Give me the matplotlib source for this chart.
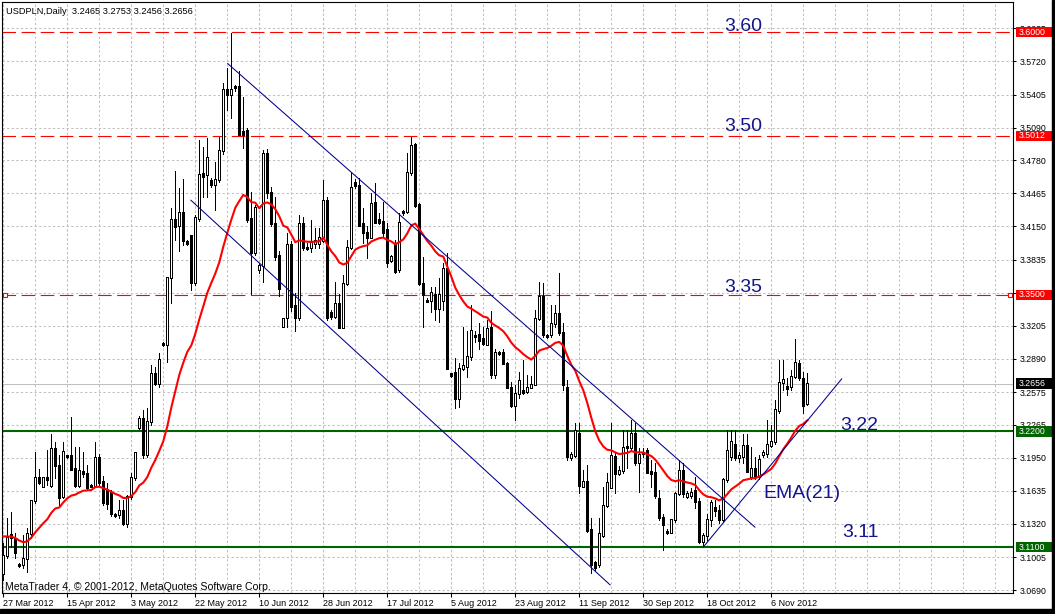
import numpy as np
import pandas as pd
import matplotlib
matplotlib.use('Agg')
import matplotlib.pyplot as plt
import matplotlib.transforms as mtrans
from matplotlib.patches import Rectangle

plt.rcParams['font.family'] = ['Liberation Sans', 'DejaVu Sans']

# USDPLN daily candles (one bar per trading day, Sun-Fri)
opens = [3.085, 3.102, 3.122, 3.118, 3.093, 3.093, 3.099, 3.123, 3.154, 3.176,
         3.168, 3.176, 3.169, 3.204, 3.188, 3.158, 3.197, 3.197, 3.185, 3.169,
         3.182, 3.180, 3.169, 3.169, 3.195, 3.172, 3.164, 3.162, 3.141, 3.141,
         3.145, 3.132, 3.158, 3.176, 3.224, 3.232, 3.198, 3.229, 3.275, 3.266,
         3.303, 3.303, 3.366, 3.422, 3.416, 3.428, 3.401, 3.406, 3.362, 3.423,
         3.465, 3.464, 3.459, 3.455, 3.460, 3.487, 3.545, 3.541, 3.547, 3.548,
         3.505, 3.506, 3.423, 3.390, 3.374, 3.378, 3.484, 3.447, 3.418, 3.387,
         3.320, 3.328, 3.398, 3.340, 3.328, 3.418, 3.395, 3.395, 3.399, 3.399,
         3.402, 3.440, 3.333, 3.329, 3.342, 3.319, 3.361, 3.395, 3.457, 3.454,
         3.418, 3.409, 3.405, 3.438, 3.422, 3.420, 3.412, 3.383, 3.399, 3.374,
         3.428, 3.429, 3.466, 3.493, 3.436, 3.361, 3.345, 3.345, 3.350, 3.337,
         3.345, 3.375, 3.275, 3.276, 3.251, 3.280, 3.282, 3.291, 3.311, 3.312,
         3.308, 3.303, 3.319, 3.274, 3.295, 3.295, 3.285, 3.262, 3.245, 3.256,
         3.259, 3.258, 3.262, 3.265, 3.327, 3.348, 3.311, 3.312, 3.323, 3.332,
         3.314, 3.262, 3.195, 3.197, 3.218, 3.168, 3.172, 3.127, 3.095, 3.093,
         3.121, 3.150, 3.167, 3.196, 3.180, 3.183, 3.206, 3.205, 3.218, 3.190,
         3.200, 3.202, 3.182, 3.181, 3.156, 3.138, 3.125, 3.124, 3.136, 3.161,
         3.183, 3.158, 3.159, 3.164, 3.153, 3.115, 3.121, 3.136, 3.148, 3.145,
         3.136, 3.174, 3.196, 3.208, 3.195, 3.196, 3.207, 3.177, 3.185, 3.177,
         3.198, 3.199, 3.207, 3.210, 3.240, 3.267, 3.263, 3.263, 3.272, 3.285,
         3.270, 3.2465]
highs = [3.114, 3.138, 3.143, 3.123, 3.095, 3.121, 3.128, 3.155, 3.200, 3.184,
         3.177, 3.202, 3.218, 3.210, 3.198, 3.210, 3.198, 3.234, 3.205, 3.205,
         3.200, 3.188, 3.170, 3.210, 3.199, 3.178, 3.171, 3.164, 3.142, 3.155,
         3.155, 3.160, 3.180, 3.200, 3.235, 3.240, 3.242, 3.283, 3.281, 3.295,
         3.305, 3.367, 3.433, 3.468, 3.452, 3.460, 3.402, 3.407, 3.426, 3.497,
         3.491, 3.499, 3.461, 3.476, 3.500, 3.552, 3.566, 3.599, 3.550, 3.563,
         3.538, 3.509, 3.448, 3.435, 3.380, 3.488, 3.489, 3.453, 3.443, 3.392,
         3.328, 3.409, 3.401, 3.352, 3.426, 3.424, 3.399, 3.421, 3.414, 3.414,
         3.459, 3.443, 3.336, 3.362, 3.351, 3.369, 3.402, 3.466, 3.460, 3.461,
         3.433, 3.415, 3.447, 3.456, 3.428, 3.438, 3.418, 3.388, 3.402, 3.428,
         3.431, 3.485, 3.500, 3.494, 3.437, 3.386, 3.347, 3.357, 3.357, 3.366,
         3.380, 3.390, 3.276, 3.290, 3.285, 3.319, 3.316, 3.340, 3.316, 3.323,
         3.319, 3.326, 3.335, 3.298, 3.297, 3.298, 3.286, 3.267, 3.264, 3.277,
         3.288, 3.274, 3.273, 3.336, 3.362, 3.361, 3.313, 3.340, 3.340, 3.371,
         3.323, 3.269, 3.200, 3.228, 3.228, 3.183, 3.188, 3.138, 3.097, 3.138,
         3.167, 3.180, 3.228, 3.200, 3.187, 3.221, 3.221, 3.231, 3.228, 3.204,
         3.204, 3.204, 3.193, 3.190, 3.164, 3.141, 3.127, 3.137, 3.162, 3.193,
         3.190, 3.163, 3.166, 3.177, 3.157, 3.123, 3.141, 3.155, 3.155, 3.150,
         3.176, 3.221, 3.221, 3.221, 3.200, 3.218, 3.218, 3.205, 3.196, 3.198,
         3.202, 3.231, 3.226, 3.250, 3.288, 3.288, 3.271, 3.278, 3.308, 3.288,
         3.277, 3.2753]
lows = [3.079, 3.100, 3.110, 3.100, 3.091, 3.090, 3.086, 3.119, 3.152, 3.170,
        3.168, 3.169, 3.167, 3.176, 3.148, 3.157, 3.195, 3.183, 3.167, 3.167,
        3.177, 3.164, 3.167, 3.167, 3.169, 3.150, 3.146, 3.140, 3.139, 3.138,
        3.131, 3.129, 3.156, 3.174, 3.222, 3.195, 3.196, 3.226, 3.264, 3.262,
        3.301, 3.286, 3.342, 3.402, 3.392, 3.397, 3.397, 3.355, 3.359, 3.420,
        3.443, 3.443, 3.453, 3.431, 3.457, 3.484, 3.526, 3.518, 3.544, 3.502,
        3.490, 3.419, 3.351, 3.388, 3.371, 3.362, 3.442, 3.415, 3.383, 3.349,
        3.319, 3.319, 3.335, 3.316, 3.326, 3.393, 3.393, 3.391, 3.395, 3.395,
        3.400, 3.326, 3.327, 3.328, 3.318, 3.318, 3.359, 3.394, 3.452, 3.415,
        3.399, 3.385, 3.404, 3.418, 3.417, 3.405, 3.376, 3.381, 3.371, 3.372,
        3.426, 3.428, 3.464, 3.434, 3.359, 3.319, 3.343, 3.334, 3.326, 3.324,
        3.336, 3.279, 3.272, 3.242, 3.243, 3.278, 3.272, 3.288, 3.305, 3.298,
        3.302, 3.302, 3.271, 3.271, 3.293, 3.284, 3.261, 3.243, 3.231, 3.252,
        3.256, 3.257, 3.261, 3.264, 3.326, 3.310, 3.309, 3.310, 3.319, 3.312,
        3.259, 3.193, 3.193, 3.196, 3.161, 3.167, 3.124, 3.085, 3.088, 3.091,
        3.120, 3.148, 3.166, 3.161, 3.179, 3.180, 3.185, 3.202, 3.188, 3.162,
        3.196, 3.180, 3.167, 3.157, 3.136, 3.107, 3.122, 3.123, 3.134, 3.160,
        3.158, 3.157, 3.157, 3.147, 3.114, 3.111, 3.117, 3.130, 3.140, 3.133,
        3.134, 3.172, 3.193, 3.193, 3.191, 3.190, 3.181, 3.175, 3.175, 3.175,
        3.196, 3.196, 3.205, 3.208, 3.238, 3.259, 3.255, 3.259, 3.271, 3.269,
        3.238, 3.2456]
closes = [3.102, 3.119, 3.119, 3.105, 3.092, 3.099, 3.123, 3.154, 3.176, 3.171,
          3.176, 3.174, 3.204, 3.188, 3.157, 3.201, 3.196, 3.184, 3.169, 3.183,
          3.180, 3.167, 3.168, 3.195, 3.171, 3.152, 3.151, 3.142, 3.140, 3.145,
          3.132, 3.158, 3.176, 3.200, 3.232, 3.198, 3.229, 3.275, 3.266, 3.288,
          3.303, 3.366, 3.422, 3.415, 3.428, 3.402, 3.399, 3.362, 3.424, 3.464,
          3.463, 3.481, 3.455, 3.460, 3.487, 3.545, 3.541, 3.545, 3.548, 3.503,
          3.503, 3.422, 3.390, 3.433, 3.378, 3.484, 3.447, 3.418, 3.386, 3.356,
          3.327, 3.398, 3.339, 3.328, 3.418, 3.395, 3.394, 3.400, 3.402, 3.405,
          3.440, 3.328, 3.329, 3.342, 3.319, 3.361, 3.395, 3.452, 3.454, 3.416,
          3.409, 3.405, 3.437, 3.419, 3.419, 3.409, 3.381, 3.386, 3.372, 3.419,
          3.429, 3.466, 3.492, 3.435, 3.361, 3.350, 3.344, 3.352, 3.337, 3.350,
          3.375, 3.280, 3.273, 3.251, 3.280, 3.283, 3.291, 3.316, 3.310, 3.307,
          3.304, 3.318, 3.274, 3.295, 3.294, 3.285, 3.262, 3.245, 3.256, 3.268,
          3.257, 3.262, 3.265, 3.327, 3.348, 3.312, 3.310, 3.323, 3.332, 3.314,
          3.265, 3.196, 3.198, 3.221, 3.169, 3.172, 3.126, 3.093, 3.091, 3.123,
          3.150, 3.171, 3.197, 3.180, 3.183, 3.205, 3.205, 3.218, 3.190, 3.198,
          3.199, 3.181, 3.180, 3.159, 3.138, 3.131, 3.124, 3.136, 3.161, 3.183,
          3.161, 3.161, 3.162, 3.153, 3.115, 3.121, 3.136, 3.152, 3.145, 3.136,
          3.174, 3.202, 3.210, 3.195, 3.197, 3.207, 3.182, 3.185, 3.177, 3.193,
          3.200, 3.208, 3.210, 3.241, 3.267, 3.269, 3.261, 3.272, 3.286, 3.271,
          3.245, 3.2656]

ema_start = 3.122   # EMA(21) level at the left edge of the chart

# price scale of the right axis (as printed by MetaTrader)
price_ticks = [3.0690, 3.1005, 3.1320, 3.1635, 3.1950, 3.2265, 3.2575, 3.2890,
               3.3205, 3.3520, 3.3835, 3.4150, 3.4465, 3.4780, 3.5090, 3.5405,
               3.5720, 3.6035]

# horizontal levels
red_levels = [3.6000, 3.5012, 3.3500]
green_levels = [3.2200, 3.1100]
bid = 3.2656

# trend channel / support line: (bar, price) end points
upper_chan = ([56.1, 187.9], [3.570, 3.129])
lower_chan = ([46.9, 151.7], [3.440, 3.074])
support = ([175.0, 209.6], [3.110, 3.270])

# text objects: (bar, price, text)
notes = [(180.2, 3.601, '3.60'), (180.2, 3.506, '3.50'), (180.2, 3.353, '3.35'),
         (209.3, 3.2214, '3.22'), (209.8, 3.1198, '3.11'), (189.9, 3.1566, 'EMA(21)')]

dates = pd.bdate_range('2012-03-27', periods=len(closes), freq='C',
                       weekmask='Sun Mon Tue Wed Thu Fri')

o = np.array(opens); h = np.array(highs); l = np.array(lows); c = np.array(closes)
idx = np.arange(len(c))
ema = pd.Series(np.r_[ema_start, c]).ewm(span=21, adjust=False).mean().values[1:]

W, H = 1055, 614
fig = plt.figure(figsize=(W/100, H/100), dpi=100)
ax = fig.add_axes([2/W, 1 - 593.3/H, 1010.7/W, 591.3/H])
ax.set_xlim(-0.325, 252.35)
ax.set_ylim(3.066, 3.6286)
px = (3.6286 - 3.066) / 591.3   # one pixel in price units

# grid
ax.set_xticks(range(0, len(c), 16))
ax.set_xticks(range(0, 253, 8), minor=True)
ax.xaxis.remove_overlapping_locs = False
ax.set_xticklabels([])
ax.set_yticks(price_ticks, labels=['%.4f' % t for t in price_ticks])
ax.grid(True, which='both', color='#c0c0c0', lw=0.75, dashes=(2.2, 2.2))
ax.set_axisbelow(True)
ax.yaxis.tick_right()
ax.tick_params(axis='y', which='major', length=2.5, width=0.75, pad=2.2, labelsize=6.3)
ax.tick_params(axis='x', which='major', length=2.8, width=0.75)
ax.tick_params(axis='x', which='minor', length=0)
for s in ax.spines.values():
    s.set_linewidth(0.8)

# level lines
ax.axhline(bid, color='#c0c0c0', lw=0.75, zorder=1)
for lv in red_levels:
    ax.axhline(lv, color='red', lw=0.8, dashes=(12.2, 5), zorder=1)
ax.plot([0.4, 251.7], [3.35, 3.35], ls='none', marker='s', ms=3, mfc='white',
        mec='red', mew=0.8, zorder=2)
for lv in green_levels:
    ax.axhline(lv, color='#006400', lw=1.5, zorder=1)

# candles: wick, 3px black body, 1px white core for up days
top = np.maximum(o, c)
bot = np.minimum(o, c)
top = np.where(top - bot < px, bot + px, top)
ax.vlines(idx, l, h, color='black', lw=0.72, antialiased=False, zorder=3)
ax.vlines(idx, bot - 0.5 * px, top + 0.5 * px, color='black', lw=2.16,
          antialiased=False, zorder=4, capstyle='butt')
up = c > o
ax.vlines(idx[up], bot[up] + 0.5 * px, top[up] - 0.5 * px, color='white', lw=0.72,
          antialiased=False, zorder=5, capstyle='butt')

# EMA(21)
ax.plot(idx, ema, color='red', lw=1.5, zorder=6)

# channel and support
for xs, ys in (upper_chan, lower_chan, support):
    ax.plot(xs, ys, color='#00008b', lw=0.75, zorder=6)

for bx, py, txt in notes:
    ax.text(bx, py, txt, fontsize=14, color='#14148c', va='baseline', ha='left', zorder=7)

# date labels under the axis
tb = mtrans.blended_transform_factory(ax.transData, fig.transFigure)
for i in range(0, len(c), 16):
    d = dates[i]
    ax.text(i, 1 - 606/H, '%d %s' % (d.day, d.strftime('%b %Y')), transform=tb,
            fontsize=6.5, ha='left', va='baseline', clip_on=False)

# price boxes on the right scale
rb = mtrans.blended_transform_factory(fig.transFigure, ax.transData)
boxes = [(3.6000, 'red'), (3.5012, 'red'), (3.3500, 'red'), (bid, 'black'),
         (3.2200, '#006400'), (3.1100, '#006400')]
for lv, col in boxes:
    ax.add_patch(Rectangle((1016/W, lv - 5.3 * px), 36/W, 10.6 * px, transform=rb,
                           facecolor=col, edgecolor='none', clip_on=False, zorder=8))
    ax.text(1019/W, lv, '%.4f' % lv, transform=rb, color='white', fontsize=6.3,
            va='center', ha='left', clip_on=False, zorder=9)

fig.text(6/W, 1 - 14/H, 'USDPLN,Daily  3.2465 3.2753 3.2456 3.2656', fontsize=6.7,
         va='baseline')
fig.text(5/W, 1 - 590/H, 'MetaTrader 4, \u00a9 2001-2012, MetaQuotes Software Corp.',
         fontsize=7.6, va='baseline')

# window frame strips
fig.add_artist(Rectangle((0, 0), 1, 5/H, transform=fig.transFigure, color='black'))
fig.add_artist(Rectangle((1052/W, 0), 3/W, 1, transform=fig.transFigure, color='black'))

fig.savefig('out.png', dpi=100)
